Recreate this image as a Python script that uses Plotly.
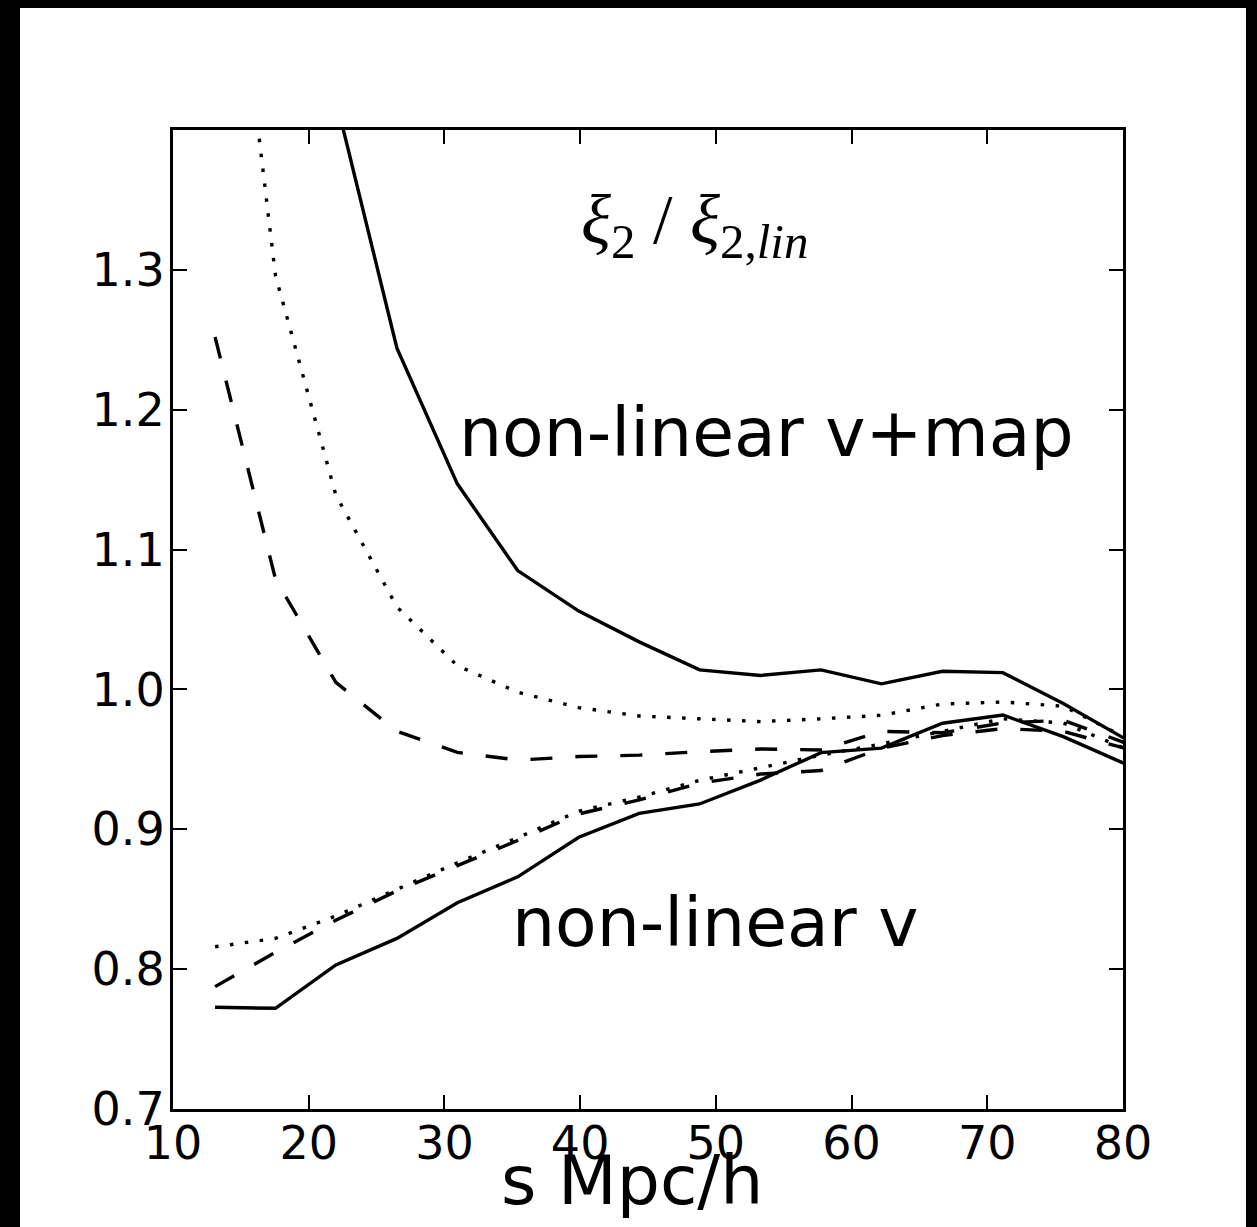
import plotly.graph_objects as go

# separation s (Mpc/h) of the bins
s_bins = [13.1, 17.55, 22.0, 26.5, 30.95, 35.4, 39.9, 44.35, 48.8, 53.3,
          57.75, 62.2, 66.7, 71.15, 75.6, 80.1]

# non-linear v + map (upper group)
vmap_solid = [None, None, 1.422, 1.244, 1.147, 1.085, 1.056, 1.034, 1.014, 1.010,
              1.014, 1.004, 1.013, 1.012, 0.990, 0.965]
vmap_dotted = [1.66, 1.296, 1.139, 1.059, 1.017, 0.998, 0.987, 0.981, 0.979, 0.977,
               0.979, 0.9815, 0.9896, 0.991, 0.988, 0.966]
vmap_dashed = [1.252, 1.079, 1.005, 0.970, 0.955, 0.9495, 0.952, 0.953, 0.9555, 0.9574,
               0.9567, 0.970, 0.969, 0.976, 0.978, 0.962]

# non-linear v (lower group)
v_solid = [0.7727, 0.772, 0.803, 0.822, 0.8475, 0.866, 0.8943, 0.9114, 0.9181, 0.9352,
           0.9548, 0.958, 0.9758, 0.9817, 0.9662, 0.947]
v_dotted = [0.816, 0.822, 0.838, 0.857, 0.876, 0.894, 0.913, 0.923, 0.935, 0.944,
            0.953, 0.961, 0.970, 0.979, 0.976, 0.958]
v_dashed = [0.7875, 0.812, 0.835, 0.856, 0.874, 0.892, 0.911, 0.921, 0.933, 0.9395,
            0.942, 0.958, 0.967, 0.972, 0.970, 0.958]

x_ticks = [10, 20, 30, 40, 50, 60, 70, 80]
y_ticks = [0.7, 0.8, 0.9, 1.0, 1.1, 1.2, 1.3]
y_tick_labels = ["0.7", "0.8", "0.9", "1.0", "1.1", "1.2", "1.3"]

SOLID = "solid"
DASHED = "22px,23px"
DOTTED = "3.5px,11.5px"

series = [
    (vmap_solid, SOLID), (vmap_dotted, DOTTED), (vmap_dashed, DASHED),
    (v_solid, SOLID), (v_dotted, DOTTED), (v_dashed, DASHED),
]

fig = go.Figure()
for vals, dash in series:
    fig.add_trace(go.Scatter(
        x=s_bins, y=vals, mode="lines", connectgaps=False,
        line=dict(color="black", width=3.4, dash=dash),
        showlegend=False, hoverinfo="skip",
    ))

W, H = 1257, 1227
L, R, T, B = 173, 1257 - 1123, 130, 1227 - 1109

axis_common = dict(
    showgrid=False, zeroline=False, showline=True, linecolor="black", linewidth=3.2,
    mirror="ticks", ticks="inside", ticklen=14, tickwidth=1.5, tickcolor="black",
    tickfont=dict(family="DejaVu Sans", size=46, color="black"),
)

fig.update_xaxes(range=[10, 80], tickvals=x_ticks, ticktext=[str(v) for v in x_ticks],
                 ticklabelstandoff=-8, **axis_common)
fig.update_yaxes(range=[0.7, 1.4], tickvals=y_ticks, ticktext=y_tick_labels,
                 ticklabelstandoff=-4, **axis_common)

def px_to_paper_x(px):
    return (px - L) / (W - L - R)

def px_to_paper_y(py):
    return (H - B - py) / (H - T - B)

shapes = [
    # black frame strips around the white figure
    dict(type="rect", xref="paper", yref="paper", layer="above",
         x0=px_to_paper_x(-10), x1=px_to_paper_x(20), y0=px_to_paper_y(H + 10), y1=px_to_paper_y(-10),
         fillcolor="black", line=dict(width=0)),
    dict(type="rect", xref="paper", yref="paper", layer="above",
         x0=px_to_paper_x(1246), x1=px_to_paper_x(W + 10), y0=px_to_paper_y(H + 10), y1=px_to_paper_y(-10),
         fillcolor="black", line=dict(width=0)),
    dict(type="rect", xref="paper", yref="paper", layer="above",
         x0=px_to_paper_x(-10), x1=px_to_paper_x(W + 10), y0=px_to_paper_y(8), y1=px_to_paper_y(-10),
         fillcolor="black", line=dict(width=0)),
]

annotations = [
    dict(x=53.7, y=1.184, xref="x", yref="y", text="non-linear v+map", showarrow=False,
         font=dict(family="DejaVu Sans", size=68, color="black"), xanchor="center", yanchor="middle"),
    dict(x=49.94, y=0.833, xref="x", yref="y", text="non-linear v", showarrow=False,
         font=dict(family="DejaVu Sans", size=68, color="black"), xanchor="center", yanchor="middle"),
    dict(x=48.4, y=1.332, xref="x", yref="y",
         text="<i>ξ</i><sub>2</sub> / <i>ξ</i><sub>2,<i>lin</i></sub>", showarrow=False,
         font=dict(family="Liberation Serif", size=70, color="black"), xanchor="center", yanchor="middle"),
    dict(x=px_to_paper_x(632), y=px_to_paper_y(1180), xref="paper", yref="paper",
         text="s Mpc/h", showarrow=False,
         font=dict(family="DejaVu Sans", size=68, color="black"), xanchor="center", yanchor="middle"),
]

fig.update_layout(
    width=W, height=H, autosize=False,
    margin=dict(l=L, r=R, t=T, b=B, pad=0),
    paper_bgcolor="white", plot_bgcolor="white",
    shapes=shapes, annotations=annotations,
    showlegend=False,
)

fig.write_html("out.html")
